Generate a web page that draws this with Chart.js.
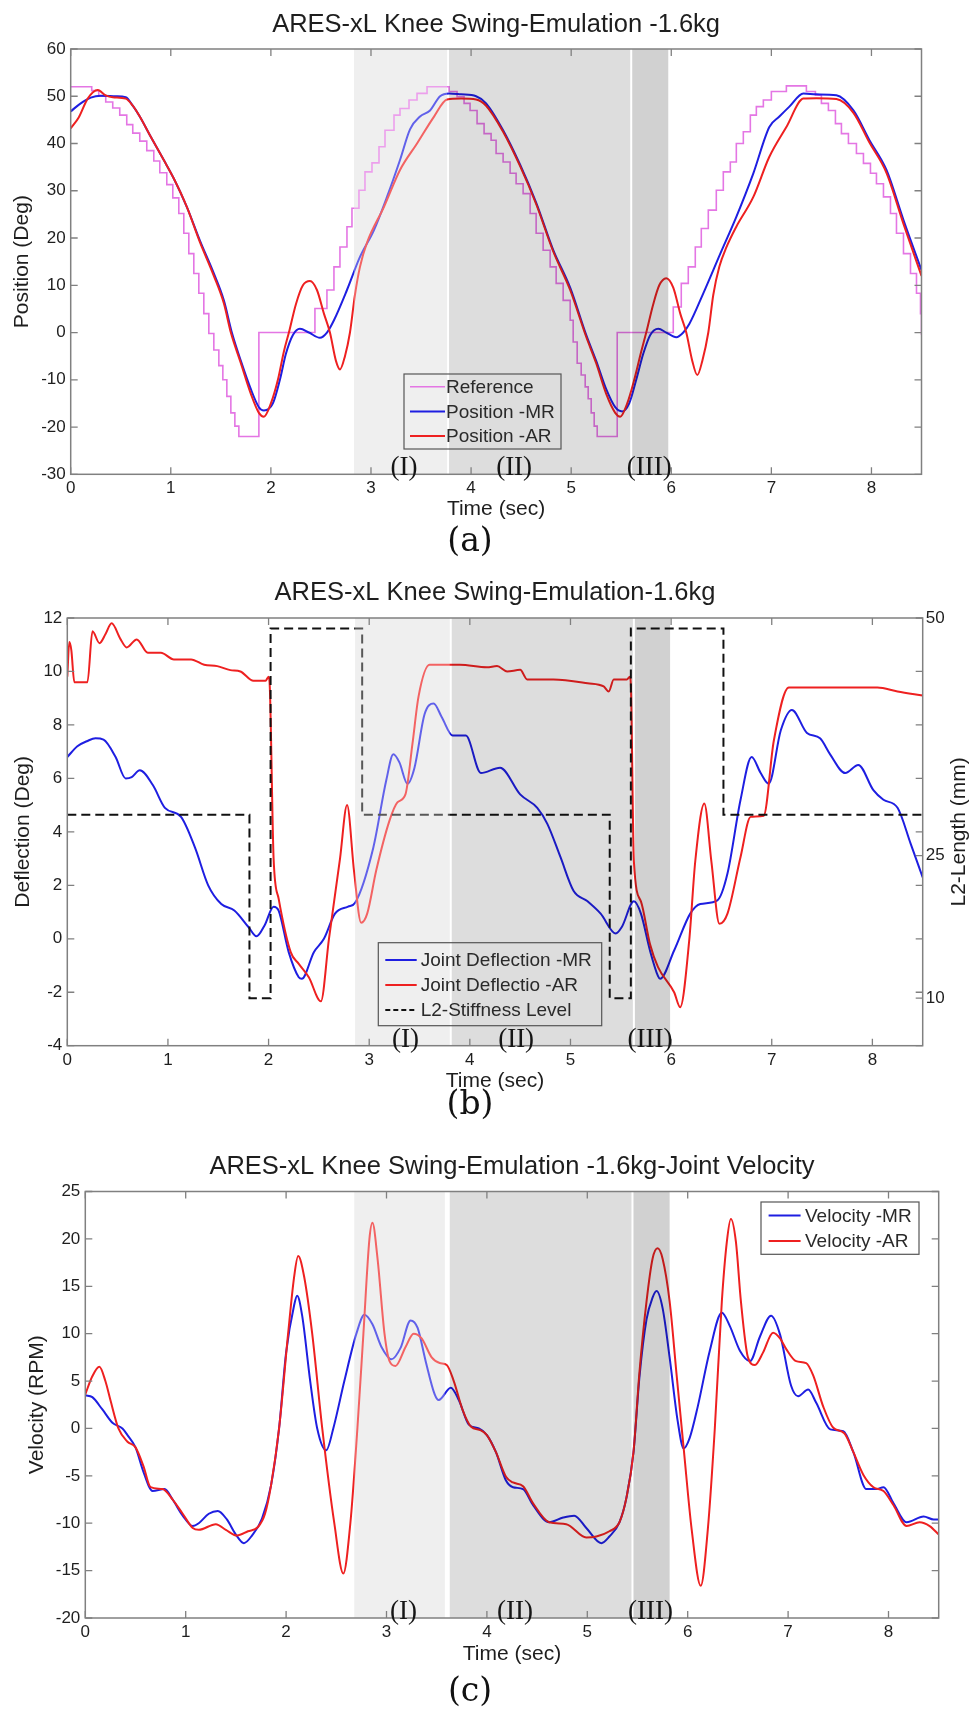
<!DOCTYPE html>
<html>
<head>
<meta charset="utf-8">
<title>ARES-xL Knee Swing-Emulation</title>
<script src="https://cdn.jsdelivr.net/npm/chart.js@4.4.1/dist/chart.umd.min.js"></script>
<style>
  body { margin: 0; background: #fff; width: 972px; height: 1711px; position: relative; overflow: hidden; }
  .panel { position: absolute; left: 0; width: 972px; }
  .tag { position: absolute; left: 0; width: 940px; text-align: center; font-family: "DejaVu Serif", "Liberation Serif", serif; font-size: 33px; line-height: 44px; color: #111; }
</style>
</head>
<body>
<div class="panel" style="top:0;height:560px"><canvas id="chartA" width="972" height="560"></canvas></div>
<div class="panel" style="top:560px;height:560px"><canvas id="chartB" width="972" height="560"></canvas></div>
<div class="panel" style="top:1120px;height:591px"><canvas id="chartC" width="972" height="591"></canvas></div>
<div class="tag" style="top:518px">(a)</div>
<div class="tag" style="top:1081px">(b)</div>
<div class="tag" style="top:1668px">(c)</div>

<script>
// ---- data: [time (s), value] ----

// (a) knee position, deg
const refPos = [
  [0, 52], [0.21, 51.2], [0.28, 50], [0.35, 48.8], [0.42, 47.5], [0.49, 46], [0.56, 44], [0.62, 42.2],
  [0.69, 40.5], [0.76, 38.5], [0.83, 36.3], [0.89, 33.8], [0.96, 31.3], [1.02, 28.5], [1.08, 25.2],
  [1.13, 21], [1.18, 16.7], [1.23, 12.5], [1.28, 8.3], [1.33, 4], [1.38, -0.2], [1.43, -3.7], [1.48, -7],
  [1.52, -10], [1.56, -13.5], [1.60, -17], [1.64, -19.8], [1.68, -22], [1.88, 0], [2.44, 5.1], [2.56, 9],
  [2.63, 13.9], [2.69, 18.1], [2.76, 22.4], [2.81, 26.3], [2.88, 30.1], [2.94, 34], [3.01, 35.9],
  [3.08, 39.3], [3.14, 42.8], [3.23, 46], [3.29, 47.4], [3.38, 49.2], [3.46, 50.6], [3.56, 52],
  [3.78, 51], [3.86, 49.9], [3.93, 48.5], [3.99, 47], [4.06, 44.2], [4.13, 42.1], [4.20, 40.7],
  [4.25, 37.9], [4.32, 36.1], [4.39, 33.7], [4.45, 31.5], [4.52, 29.4], [4.59, 25.2], [4.65, 21],
  [4.72, 17.4], [4.79, 13.9], [4.85, 10.4], [4.92, 6.8], [4.99, 2.6], [5.02, -2], [5.06, -6.5],
  [5.10, -9], [5.14, -11.5], [5.17, -14], [5.20, -17], [5.23, -19.8], [5.26, -22], [5.46, 0],
  [6.02, 5.4], [6.10, 10.4], [6.17, 13.9], [6.24, 18.1], [6.30, 22], [6.37, 25.9], [6.45, 30.1],
  [6.52, 34], [6.59, 36.1], [6.65, 40], [6.72, 42.5], [6.79, 46], [6.85, 47.8], [6.92, 49.2],
  [7.00, 51], [7.15, 52.2], [7.35, 51], [7.44, 50.2], [7.50, 48.5], [7.57, 47], [7.64, 44.2],
  [7.70, 42.1], [7.77, 40], [7.85, 37.9], [7.92, 35.8], [7.99, 33.7], [8.05, 31.5], [8.12, 28.7],
  [8.19, 25.2], [8.25, 21], [8.32, 16.7], [8.39, 12.5], [8.45, 8.3], [8.49, 4], [8.5, -0.5]
];
const mrPos = [
  [0, 46.8], [0.1, 48.5], [0.2, 49.7], [0.3, 50.1], [0.45, 50], [0.55, 49.8], [0.62, 48], [0.69, 45.7],
  [0.79, 41.8], [0.93, 36.5], [1.03, 32.6], [1.16, 26.6], [1.29, 19.5], [1.43, 12.5], [1.53, 6.8],
  [1.61, 0], [1.70, -6], [1.80, -12], [1.88, -15.8], [1.93, -16.5], [2.02, -15], [2.09, -10],
  [2.15, -4.5], [2.22, -0.5], [2.29, 0.8], [2.38, 0], [2.49, -1.1], [2.56, 0], [2.63, 2.6], [2.76, 9],
  [2.89, 16], [3.03, 21.7], [3.16, 28.7], [3.29, 36.5], [3.39, 43], [3.49, 45.7], [3.59, 47],
  [3.69, 50], [3.78, 50.6], [3.9, 50.4], [4.05, 50], [4.15, 48.5], [4.32, 42.8], [4.49, 35.5],
  [4.65, 27.5], [4.82, 17.5], [4.99, 9.5], [5.15, -0.5], [5.25, -6], [5.35, -12], [5.44, -15.8],
  [5.51, -16.7], [5.58, -15], [5.65, -10], [5.72, -4.5], [5.79, -0.5], [5.87, 0.8], [5.95, 0],
  [6.05, -1], [6.12, 0], [6.18, 1.8], [6.32, 8.3], [6.49, 16.7], [6.65, 24.5], [6.82, 33.7],
  [6.98, 43.5], [7.08, 45.7], [7.18, 47.8], [7.32, 50.6], [7.45, 50.4], [7.65, 50.2], [7.82, 47],
  [7.98, 40.7], [8.15, 34.4], [8.32, 23.8], [8.5, 13.2]
];
const arPos = [
  [0, 43.2], [0.08, 45.5], [0.17, 49.5], [0.27, 51.3], [0.35, 50.2], [0.42, 49.8], [0.55, 49.5],
  [0.62, 48], [0.69, 45.7], [0.79, 41.8], [0.93, 36.5], [1.03, 32.6], [1.16, 26.6], [1.29, 19.2],
  [1.43, 12], [1.53, 6.2], [1.60, 0], [1.70, -6.5], [1.80, -13], [1.88, -17], [1.93, -17.8],
  [2.00, -15], [2.07, -10], [2.13, -4], [2.18, 0], [2.25, 6], [2.32, 10], [2.39, 10.9], [2.46, 9],
  [2.53, 4], [2.59, 0], [2.65, -6], [2.69, -7.8], [2.74, -5], [2.79, 0], [2.84, 8], [2.89, 13.9],
  [2.96, 19], [3.13, 26.6], [3.29, 34.4], [3.46, 40], [3.63, 45.7], [3.76, 49.3], [3.9, 49.5],
  [4.05, 49.3], [4.15, 48], [4.32, 42.5], [4.49, 35.2], [4.65, 27.2], [4.82, 17.2], [4.99, 9],
  [5.15, -0.9], [5.25, -6.5], [5.35, -13], [5.44, -17], [5.49, -17.8], [5.56, -15], [5.63, -10],
  [5.70, -4], [5.75, 0], [5.82, 6], [5.88, 10], [5.95, 11.5], [6.02, 9.5], [6.09, 4], [6.15, 0],
  [6.21, -6], [6.26, -9], [6.31, -6], [6.37, 0], [6.42, 8], [6.48, 13.9], [6.55, 18], [6.65, 22.4],
  [6.82, 28.7], [6.98, 37.2], [7.15, 43.5], [7.32, 49.5], [7.45, 49.6], [7.65, 49.4], [7.82, 46.5],
  [7.98, 40.2], [8.15, 33.8], [8.32, 23], [8.5, 12]
];

// (b) joint deflection, deg, and L2 stiffness setting, mm
const mrDefl = [
  [0, 6.8], [0.1, 7.2], [0.2, 7.4], [0.28, 7.5], [0.36, 7.45], [0.48, 6.8], [0.58, 6.0], [0.64, 6.05],
  [0.72, 6.3], [0.85, 5.75], [0.97, 4.9], [1.13, 4.56], [1.27, 3.4], [1.40, 2.0], [1.53, 1.3],
  [1.66, 1.06], [1.80, 0.44], [1.88, 0.09], [1.96, 0.5], [2.05, 1.2], [2.1, 1.05], [2.2, -0.5],
  [2.3, -1.44], [2.33, -1.5], [2.45, -0.5], [2.55, 0], [2.66, 0.94], [2.79, 1.2], [2.86, 1.35],
  [3.04, 3.4], [3.17, 5.94], [3.24, 6.9], [3.3, 6.6], [3.38, 5.8], [3.45, 6.4], [3.55, 8.4],
  [3.64, 8.8], [3.72, 8.3], [3.83, 7.6], [3.96, 7.6], [4.11, 6.2], [4.3, 6.4], [4.5, 5.4],
  [4.67, 4.9], [4.77, 4.3], [4.9, 3.06], [5.03, 1.8], [5.17, 1.4], [5.3, 0.94], [5.45, 0.2],
  [5.51, 0.44], [5.63, 1.4], [5.7, 0.94], [5.79, -0.44], [5.87, -1.4], [5.89, -1.5], [6.03, -0.44],
  [6.19, 0.94], [6.29, 1.3], [6.46, 1.44], [6.56, 2.44], [6.69, 5.2], [6.8, 6.8], [6.89, 6.2],
  [6.97, 5.8], [7.09, 7.8], [7.2, 8.56], [7.35, 7.7], [7.48, 7.5], [7.58, 6.9], [7.73, 6.2],
  [7.86, 6.5], [8.01, 5.56], [8.11, 5.2], [8.25, 4.9], [8.38, 3.56], [8.5, 2.3]
];
const arDefl = [
  [0, 9.8], [0.02, 11.1], [0.04, 10.8], [0.07, 9.6], [0.2, 9.6], [0.25, 11.5], [0.32, 11.06],
  [0.38, 11.4], [0.44, 11.8], [0.53, 11.2], [0.59, 10.9], [0.69, 11.2], [0.8, 10.7], [0.93, 10.7],
  [1.06, 10.45], [1.23, 10.45], [1.36, 10.25], [1.49, 10.2], [1.62, 10.05], [1.72, 10.0],
  [1.85, 9.65], [1.97, 9.65], [2.0, 9.8], [2.01, 9.6], [2.05, 3], [2.1, 1.5], [2.22, -0.5],
  [2.3, -0.94], [2.4, -1.44], [2.52, -2.34], [2.6, 0], [2.71, 3], [2.78, 5], [2.85, 2.5],
  [2.92, 0.6], [2.98, 0.94], [3.07, 2.56], [3.2, 4.4], [3.28, 5.1], [3.36, 5.4], [3.43, 7.3],
  [3.49, 9.06], [3.6, 10.25], [3.9, 10.25], [4.17, 10.16], [4.27, 10.2], [4.37, 10], [4.5, 10.06],
  [4.57, 9.7], [4.83, 9.7], [5.17, 9.56], [5.33, 9.44], [5.38, 9.25], [5.43, 9.7], [5.56, 9.7],
  [5.59, 9.8], [5.6, 9.5], [5.63, 2.9], [5.7, 1.4], [5.79, -0.2], [5.87, -1.06], [6.03, -2],
  [6.09, -2.56], [6.18, -0.06], [6.24, 2.9], [6.33, 5.06], [6.4, 2.9], [6.48, 0.56], [6.56, 0.94],
  [6.69, 3.06], [6.79, 4.56], [6.92, 4.6], [7.02, 7.4], [7.17, 9.4], [8.05, 9.4], [8.25, 9.25],
  [8.5, 9.1]
];
const l2Level = [
  [0, 29.3], [1.81, 10], [2.02, 48.9], [2.93, 29.3], [5.39, 10], [5.6, 48.9], [6.52, 29.3], [8.5, 29.3]
];
const l2Ticks = [10, 25, 50];

// (c) joint velocity, rpm
const mrVel = [
  [0, 3.5], [0.07, 3.3], [0.17, 2], [0.27, 0.6], [0.37, 0], [0.42, -0.7], [0.5, -2], [0.58, -4.6],
  [0.67, -6.6], [0.79, -6.4], [0.87, -7.5], [0.97, -9.2], [1.07, -10.3], [1.13, -10], [1.23, -9],
  [1.32, -8.7], [1.41, -9.6], [1.5, -11.2], [1.58, -12.1], [1.66, -11.3], [1.76, -9.5], [1.85, -6],
  [1.93, 0], [2.0, 8], [2.08, 13], [2.11, 14], [2.16, 11.9], [2.24, 5], [2.31, 0], [2.4, -2.3],
  [2.47, 0], [2.58, 5], [2.7, 10], [2.78, 12], [2.86, 11], [2.95, 8.6], [3.05, 7.3], [3.14, 8.5],
  [3.24, 11.4], [3.31, 10.6], [3.39, 7.1], [3.48, 3.6], [3.52, 3], [3.64, 4.3], [3.72, 3],
  [3.82, 0.4], [3.92, 0], [4.0, -0.7], [4.09, -2.5], [4.19, -5.5], [4.26, -6.2], [4.36, -6.4],
  [4.46, -8.1], [4.62, -9.9], [4.76, -9.4], [4.87, -9.2], [4.99, -10.5], [5.14, -12.1],
  [5.22, -11.4], [5.32, -9.9], [5.39, -7.3], [5.46, -2.5], [5.52, 5.5], [5.59, 11.5], [5.65, 13.8],
  [5.69, 14.5], [5.75, 12.7], [5.82, 7.5], [5.9, 0.8], [5.96, -2.1], [6.02, -1], [6.1, 2.3],
  [6.22, 8.2], [6.34, 12.2], [6.42, 10.8], [6.52, 8.2], [6.62, 7.1], [6.72, 9.7], [6.83, 11.9],
  [6.92, 9.9], [7.03, 4.5], [7.1, 3.4], [7.2, 4.1], [7.28, 2.7], [7.42, -0.1], [7.55, -0.3],
  [7.65, -2.5], [7.78, -6.4], [7.88, -6.4], [7.95, -6.2], [8.05, -7.9], [8.18, -9.9], [8.35, -9.3],
  [8.45, -9.6], [8.5, -9.6]
];
const arVel = [
  [0, 3.6], [0.07, 5.5], [0.14, 6.5], [0.2, 5], [0.25, 3], [0.33, 0], [0.42, -1.4], [0.5, -2],
  [0.58, -4], [0.65, -6.2], [0.77, -6.4], [0.87, -7.5], [0.97, -9], [1.07, -10.5], [1.13, -10.7],
  [1.3, -10.1], [1.4, -10.7], [1.51, -11.3], [1.62, -10.85], [1.72, -10.4], [1.79, -9], [1.85, -6],
  [1.93, 0], [2.02, 10], [2.08, 16], [2.12, 18.2], [2.18, 16], [2.26, 10], [2.36, 0], [2.48, -10],
  [2.57, -15.3], [2.64, -10], [2.71, 0], [2.77, 10], [2.83, 20], [2.86, 21.7], [2.91, 18],
  [2.98, 10], [3.03, 7.1], [3.09, 6.6], [3.19, 8.6], [3.27, 10], [3.35, 9.5], [3.45, 7.5],
  [3.53, 6.9], [3.6, 6.7], [3.67, 5], [3.76, 1.9], [3.84, 0.2], [3.94, -0.2], [4.0, -0.7],
  [4.09, -2.5], [4.19, -5.1], [4.26, -5.7], [4.36, -6.1], [4.46, -7.9], [4.62, -9.9], [4.79, -10.1],
  [4.99, -11.5], [5.09, -11.4], [5.22, -10.85], [5.32, -9.9], [5.39, -7.3], [5.46, -2.5], [5.52, 6],
  [5.59, 13.4], [5.65, 17.9], [5.7, 19], [5.75, 17.9], [5.82, 13.4], [5.89, 5.6], [5.96, -2.1],
  [6.04, -10.7], [6.13, -16.6], [6.2, -10.7], [6.27, 0], [6.34, 13.4], [6.39, 19.7], [6.43, 22.1],
  [6.48, 19.7], [6.53, 13.4], [6.6, 7.5], [6.67, 6.7], [6.75, 8], [6.85, 10.1], [6.92, 9.5],
  [6.98, 8.4], [7.08, 7.1], [7.18, 6.9], [7.25, 5.6], [7.35, 2.3], [7.45, 0.07], [7.56, -0.5],
  [7.65, -2.5], [7.75, -4.9], [7.85, -6.2], [7.95, -6.6], [8.05, -8.1], [8.18, -10.3], [8.31, -9.9],
  [8.41, -10.3], [8.5, -11.2]
];

// gait phases (I)-(III): [start, end] in s, and where each tag sits
const phaseNames = ['(I)', '(II)', '(III)'];
const phasesA = [[2.83, 3.76], [3.78, 5.59], [5.61, 5.97]];
const phasesB = [[2.86, 3.80], [3.82, 5.62], [5.64, 5.99]];
const phasesC = [[2.68, 3.58], [3.63, 5.44], [5.46, 5.82]];
const phaseTagA = [3.33, 4.43, 5.78];
const phaseTagB = [3.36, 4.46, 5.79];
const phaseTagC = [3.17, 4.28, 5.63];

// ---- styling ----
const SANS = '"Liberation Sans", Arial, sans-serif';
const SERIF = '"Liberation Serif", "Times New Roman", serif';
const BLUE = 'rgb(30,30,225)';
const RED = 'rgb(238,32,32)';
const MAGENTA = 'rgb(228,118,228)';
const INK = '#1e1e1e';
const FRAME = '#808080';
const bandShade = ['#e8e8e8', '#dddddd', '#d1d1d1'];

Chart.defaults.font.family = SANS;
Chart.defaults.color = INK;

const pts = arr => arr.map(([x, y]) => ({ x, y }));

const trace = (label, data, color, extra = {}) => ({
  label,
  data: pts(data),
  borderColor: color,
  backgroundColor: color,
  borderWidth: 2,
  pointRadius: 0,
  fill: false,
  cubicInterpolationMode: 'monotone',
  ...extra
});

// Frame, inward ticks, phase bands, phase tags, legend and title
const figurePlugin = {
  id: 'figure',
  beforeDatasetsDraw(chart, _a, o) {
    const { ctx, chartArea: a, scales: { x } } = chart;
    const [s, e] = o.phases[0];
    ctx.save();
    ctx.fillStyle = bandShade[0];
    ctx.fillRect(x.getPixelForValue(s), a.top, x.getPixelForValue(e) - x.getPixelForValue(s), a.bottom - a.top);
    ctx.restore();
  },
  afterDatasetsDraw(chart, _a, o) {
    const { ctx, chartArea: a, scales } = chart;
    const x = scales.x;
    const px = v => x.getPixelForValue(v);
    ctx.save();

    // phase I gets a light veil over the traces, II and III a multiplied grey
    o.phases.forEach(([s, e], i) => {
      ctx.globalCompositeOperation = i === 0 ? 'source-over' : 'multiply';
      ctx.fillStyle = i === 0 ? 'rgba(255,255,255,0.3)' : bandShade[i];
      ctx.fillRect(px(s), a.top, px(e) - px(s), a.bottom - a.top);
    });
    ctx.globalCompositeOperation = 'source-over';

    // legend
    const lg = o.legend;
    ctx.strokeStyle = '#555';
    ctx.lineWidth = 1.2;
    ctx.strokeRect(lg.x, lg.y, lg.w, lg.h);
    ctx.font = `19px ${SANS}`;
    ctx.textAlign = 'left';
    ctx.textBaseline = 'middle';
    lg.order.forEach((di, i) => {
      const ds = chart.data.datasets[di];
      const y = lg.y + lg.first + i * lg.rowH;
      ctx.strokeStyle = ds.borderColor;
      ctx.lineWidth = ds.borderWidth;
      ctx.setLineDash(ds.borderDash ? [5, 3] : []);
      ctx.beginPath();
      ctx.moveTo(lg.x + lg.lineFrom, y);
      ctx.lineTo(lg.x + lg.lineTo, y);
      ctx.stroke();
      ctx.setLineDash([]);
      ctx.fillStyle = '#2a2a2a';
      ctx.fillText(ds.label, lg.x + lg.textAt, y + 1);
    });

    // box and inward ticks
    ctx.strokeStyle = FRAME;
    ctx.lineWidth = 1.5;
    ctx.strokeRect(a.left, a.top, a.right - a.left, a.bottom - a.top);
    ctx.lineWidth = 1.3;
    ctx.beginPath();
    x.ticks.forEach(t => {
      const p = px(t.value);
      ctx.moveTo(p, a.bottom); ctx.lineTo(p, a.bottom - 7);
      ctx.moveTo(p, a.top); ctx.lineTo(p, a.top + 7);
    });
    scales.y.ticks.forEach(t => {
      const p = scales.y.getPixelForValue(t.value);
      ctx.moveTo(a.left, p); ctx.lineTo(a.left + 7, p);
      ctx.moveTo(a.right, p); ctx.lineTo(a.right - 7, p);
    });
    if (scales.y1) {
      scales.y1.ticks.forEach(t => {
        const p = scales.y1.getPixelForValue(t.value);
        ctx.moveTo(a.right, p); ctx.lineTo(a.right - 7, p);
      });
    }
    ctx.stroke();

    // phase tags
    ctx.fillStyle = '#151515';
    ctx.font = `27px ${SERIF}`;
    ctx.textAlign = 'center';
    ctx.textBaseline = 'middle';
    o.tags.forEach((t, i) => ctx.fillText(phaseNames[i], px(t), a.bottom - 6));

    // title
    ctx.fillStyle = INK;
    ctx.font = `25.5px ${SANS}`;
    ctx.fillText(o.title, (a.left + a.right) / 2, o.titleY);

    // right-hand axis title, reading bottom to top
    if (o.rightTitle) {
      ctx.save();
      ctx.translate(o.rightTitle.x, (a.top + a.bottom) / 2);
      ctx.rotate(-Math.PI / 2);
      ctx.font = `21px ${SANS}`;
      ctx.fillText(o.rightTitle.text, 0, 0);
      ctx.restore();
    }
    ctx.restore();
  }
};

function panel(id, { box, yTitle, yMin, yMax, yStep, datasets, figure, xTitleY, yTitleX, y1 }) {
  const canvas = document.getElementById(id);
  const H = canvas.height;
  const W = canvas.width;
  const scales = {
    x: {
      type: 'linear', min: 0, max: 8.5,
      ticks: { stepSize: 1, includeBounds: false, padding: 4, maxRotation: 0, font: { size: 17 }, color: INK },
      grid: { display: false, drawTicks: false },
      border: { display: false },
      title: { display: true, text: 'Time (sec)', color: INK, font: { size: 21 }, padding: { top: 0, bottom: H - xTitleY - 12.6 } },
      afterFit: s => { s.height = H - box.bottom; }
    },
    y: {
      type: 'linear', min: yMin, max: yMax,
      ticks: { stepSize: yStep, padding: 5, font: { size: 17 }, color: INK },
      grid: { display: false, drawTicks: false },
      border: { display: false },
      title: { display: true, text: yTitle, color: INK, font: { size: 21 }, padding: { top: yTitleX - 12.6, bottom: 0 } },
      afterFit: s => { s.width = box.left; }
    }
  };
  if (y1) {
    scales.y1 = {
      type: 'linear', position: 'right', min: y1.min, max: y1.max,
      afterBuildTicks: s => { s.ticks = y1.ticks.map(value => ({ value })); },
      ticks: { padding: 3, font: { size: 17 }, color: INK },
      grid: { display: false, drawTicks: false },
      border: { display: false },
      afterFit: s => { s.width = W - box.right; }
    };
  }
  return new Chart(canvas.getContext('2d'), {
    type: 'line',
    data: { datasets },
    options: {
      responsive: false,
      animation: false,
      devicePixelRatio: 1,
      layout: { padding: { top: box.top, left: 0, bottom: 0, right: y1 ? 0 : W - box.right } },
      plugins: { legend: { display: false }, tooltip: { enabled: false }, figure },
      scales
    },
    plugins: [figurePlugin]
  });
}

// (a) position
panel('chartA', {
  box: { left: 70.7, right: 921.5, top: 49, bottom: 474.3 },
  yTitle: 'Position (Deg)', yMin: -30, yMax: 60, yStep: 10,
  xTitleY: 509, yTitleX: 22.6,
  datasets: [
    trace('Position -AR', arPos, RED, { order: 0 }),
    trace('Position -MR', mrPos, BLUE, { order: 1 }),
    trace('Reference', refPos, MAGENTA, { order: 2, borderWidth: 1.6, stepped: true, cubicInterpolationMode: 'default' })
  ],
  figure: {
    title: 'ARES-xL Knee Swing-Emulation -1.6kg', titleY: 25,
    phases: phasesA, tags: phaseTagA,
    legend: { x: 404, y: 374, w: 157, h: 75, first: 12.7, rowH: 24.7, lineFrom: 6, lineTo: 41, textAt: 42, order: [2, 1, 0] }
  }
});

// (b) deflection with L2 stiffness level on the right axis
panel('chartB', {
  box: { left: 67.3, right: 922.7, top: 58, bottom: 485.7 },
  yTitle: 'Deflection (Deg)', yMin: -4, yMax: 12, yStep: 2,
  xTitleY: 521, yTitleX: 23.3,
  y1: { min: 5, max: 50, ticks: l2Ticks },
  datasets: [
    trace('L2-Stiffness Level', l2Level, '#111', { order: 0, yAxisID: 'y1', stepped: true, borderDash: [9, 5], cubicInterpolationMode: 'default' }),
    trace('Joint Deflectio -AR', arDefl, RED, { order: 1 }),
    trace('Joint Deflection -MR', mrDefl, BLUE, { order: 2 })
  ],
  figure: {
    title: 'ARES-xL Knee Swing-Emulation-1.6kg', titleY: 33,
    phases: phasesB, tags: phaseTagB,
    rightTitle: { text: 'L2-Length (mm)', x: 959 },
    legend: { x: 378.3, y: 382.7, w: 223.4, h: 83, first: 17.3, rowH: 25, lineFrom: 7, lineTo: 38.4, textAt: 42.4, order: [2, 1, 0] }
  }
});

// (c) joint velocity
panel('chartC', {
  box: { left: 85.3, right: 938.7, top: 71.5, bottom: 498 },
  yTitle: 'Velocity (RPM)', yMin: -20, yMax: 25, yStep: 5,
  xTitleY: 534, yTitleX: 37,
  datasets: [
    trace('Velocity -AR', arVel, RED, { order: 0 }),
    trace('Velocity -MR', mrVel, BLUE, { order: 1 })
  ],
  figure: {
    title: 'ARES-xL Knee Swing-Emulation -1.6kg-Joint Velocity', titleY: 47,
    phases: phasesC, tags: phaseTagC,
    legend: { x: 761, y: 82, w: 158, h: 52.3, first: 13.4, rowH: 25.6, lineFrom: 7.6, lineTo: 39.6, textAt: 44, order: [1, 0] }
  }
});
</script>
</body>
</html>
